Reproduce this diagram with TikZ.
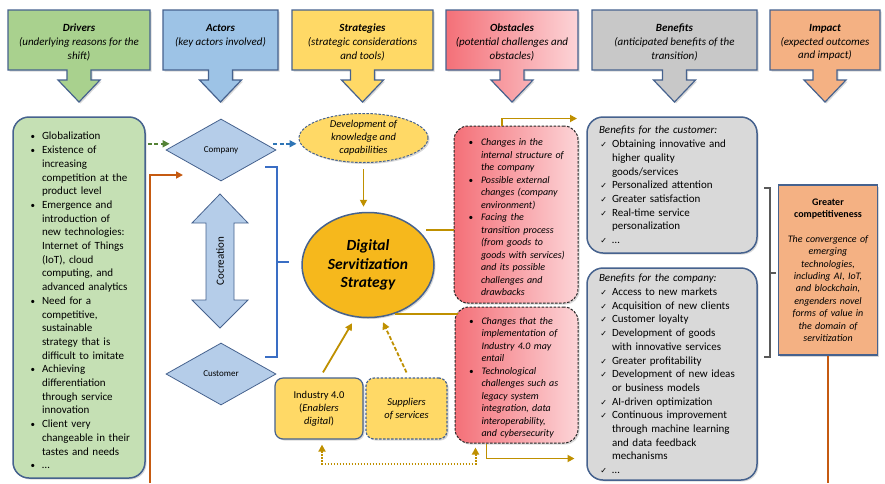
\documentclass[tikz,border=0pt]{standalone}
\usepackage{fontspec}
\setmainfont{Carlito}
\newfontfamily\symfont{DejaVu Sans}
\usepackage{enumitem}
\usetikzlibrary{shapes.geometric,arrows.meta,calc,shadows,positioning}
\definecolor{rimblue}{RGB}{70,98,142}
\definecolor{hgreen}{RGB}{169,209,142}
\definecolor{hblue}{RGB}{157,195,230}
\definecolor{hyellow}{RGB}{255,217,102}
\definecolor{obsdark}{RGB}{244,112,120}
\definecolor{obslight}{RGB}{252,212,215}
\definecolor{hgray}{RGB}{200,200,200}
\definecolor{horange}{RGB}{244,177,131}
\definecolor{drvgreen}{RGB}{197,224,180}
\definecolor{diamblue}{RGB}{181,205,233}
\definecolor{goldfill}{RGB}{246,184,28}
\definecolor{bengray}{RGB}{217,217,217}
\definecolor{goldline}{RGB}{191,144,0}
\definecolor{linkorange}{RGB}{197,90,17}
\definecolor{linkgreen}{RGB}{84,130,53}
\definecolor{linkblue}{RGB}{46,117,182}
\definecolor{braceblue}{RGB}{58,110,196}
\definecolor{bracegray}{RGB}{89,89,89}

\SetEnumitemKey{dots}{nosep,leftmargin=15pt,labelsep=7pt,label={\small\textbullet}}
\SetEnumitemKey{ticks}{nosep,leftmargin=13pt,labelsep=5pt,label={\symfont\footnotesize ✓}}

% header box with its down arrow
\newcommand{\headbox}[5]{%
  \pgfmathsetmacro\hc{(#2+#3)/2}
  \draw[headline,#4] (#2,10) -- (#3,10) -- (#3,70) -- (\hc+12,70) -- (\hc+12,80)
    -- (\hc+21,80) -- (\hc,102) -- (\hc-21,80) -- (\hc-12,80) -- (\hc-12,70)
    -- (#2,70) -- cycle;
  \node[headtext] (#1) at (\hc,24) {#5};
}

\begin{document}
\begin{tikzpicture}[x=1pt,y=-1pt,>={Triangle[length=7pt,width=7pt]},
    shadowed/.style={drop shadow={shadow xshift=1.5pt,shadow yshift=-1.5pt,opacity=0.3}},
    headline/.style={draw=rimblue,line width=1.2pt,shadowed},
    headtext/.style={anchor=north,inner sep=0pt,align=center,font=\fontsize{11}{13.8}\selectfont},
    listbox/.style={draw=rimblue,line width=1.5pt,rounded corners=16pt,shadowed,align=left,
      font=\fontsize{11}{13.7}\selectfont},
    obsbox/.style={draw=black!85,dash pattern=on 2.5pt off 1.5pt,line width=1pt,rounded corners=14pt,
      left color=obsdark,right color=obslight,shadowed,align=left,text width=104,
      font=\fontsize{10}{12.5}\selectfont\itshape},
    diam/.style={diamond,draw=rimblue,line width=0.8pt,fill=diamblue,minimum width=110,
      minimum height=62,inner sep=0pt,font=\fontsize{9}{11}\selectfont},
    yelbox/.style={draw=rimblue,line width=1.2pt,fill=hyellow,rounded corners=8pt,shadowed,
      minimum height=61,align=center,font=\fontsize{10.5}{13}\selectfont},
    goldarr/.style={goldline,line width=1.8pt},
    orangeline/.style={linkorange,line width=1.6pt},
    dashlink/.style={line width=1.6pt,dash pattern=on 4pt off 2.5pt,->}]

    \useasboundingbox (0,0) rectangle (885,483);
    \fill[white] (0,0) rectangle (885,483);

    % Headers
    \headbox{hdrv}{8}{150}{fill=hgreen}{\textbf{\textit{Drivers}}\\\textit{(underlying reasons for the}\\\textit{shift)}}
    \headbox{hact}{163}{278}{fill=hblue}{\textbf{\textit{Actors}}\\\textit{(key actors involved)}}
    \headbox{hstr}{292}{433}{fill=hyellow}{\textbf{\textit{Strategies}}\\\textit{(strategic considerations}\\\textit{and tools)}}
    \headbox{hobs}{446}{578}{left color=obsdark,right color=obslight}{\textbf{\textit{Obstacles}}\\\textit{(potential challenges and}\\\textit{obstacles)}}
    \headbox{hben}{592}{757}{fill=hgray}{\textbf{\textit{Benefits}}\\\textit{(anticipated benefits of the}\\\textit{transition)}}
    \headbox{himp}{770}{880}{fill=horange}{\textbf{\textit{Impact}}\\\textit{(expected outcomes}\\\textit{and impact)}}

    % Drivers
    \node[listbox,fill=drvgreen,minimum width=132,minimum height=361,text width=104] (drv) at (79,297.5) {%
      \begin{itemize}[dots]
        \item Globalization
        \item Existence of\\ increasing\\ competition at the\\ product level
        \item Emergence and\\ introduction of\\ new technologies:\\ Internet of Things\\ (IoT), cloud\\ computing, and\\ advanced analytics
        \item Need for a\\ competitive,\\ sustainable\\ strategy that is\\ difficult to imitate
        \item Achieving\\ differentiation\\ through service\\ innovation
        \item Client very\\ changeable in their\\ tastes and needs
        \item \dots
      \end{itemize}};

    % Actors
    \node[diam] (comp) at (221,150) {Company};
    \node[diam] (cust) at (221,374) {Customer};
    \draw[rimblue,line width=0.8pt,fill=diamblue] (220,194) -- (248,223) -- (234,223) -- (234,300)
      -- (248,300) -- (220,328) -- (192,300) -- (206,300) -- (206,223) -- (192,223) -- cycle;
    \node[rotate=90,font=\fontsize{11}{13}\selectfont] (cocr) at (220,261) {Cocreation};
    \draw[braceblue,line width=1.6pt] (265,167) -- (277,167) -- (277,357) -- (265,357)
      (277,262) -- (289,262);

    % Strategies
    \node[ellipse,draw=rimblue,line width=1pt,dash pattern=on 2.5pt off 1.5pt,fill=hyellow,shadowed,
      minimum width=129,minimum height=49,inner xsep=0pt,inner ysep=-6pt,align=center,
      font=\fontsize{10.5}{13}\selectfont\itshape] (dev) at (363.5,138) {Development of\\knowledge and\\capabilities};
    \node[ellipse,draw=rimblue,line width=1.5pt,fill=goldfill,shadowed,minimum width=132,minimum height=105,
      inner sep=0pt,align=center,font=\fontsize{15.5}{18.5}\selectfont\bfseries\itshape] (big) at (368,265)
      {Digital\\Servitization\\Strategy};
    \node[yelbox,minimum width=88] (ind) at (319,408.5) {Industry 4.0\\(\textit{Enablers}\\\textit{digital})};
    \node[yelbox,minimum width=81,dash pattern=on 2.5pt off 1.5pt,font=\fontsize{10.5}{13}\selectfont\itshape]
      (sup) at (406.5,408.5) {Suppliers\\of services};

    % Obstacles
    \node[obsbox,minimum width=124,minimum height=177] (obs1) at (516,214.5) {%
      \begin{itemize}[dots,leftmargin=17pt,labelsep=8pt]
        \item Changes in the\\ internal structure of\\ the company
        \item Possible external\\ changes (company\\ environment)
        \item Facing the\\ transition process\\ (from goods to\\ goods with services)\\ and its possible\\ challenges and\\ drawbacks
      \end{itemize}};
    \node[obsbox,minimum width=123,minimum height=136] (obs2) at (516.5,375) {%
      \begin{itemize}[dots,leftmargin=17pt,labelsep=8pt]
        \item Changes that the\\ implementation of\\ Industry 4.0 may\\ entail
        \item Technological\\ challenges such as\\ legacy system\\ integration, data\\ interoperability,\\ and cybersecurity
      \end{itemize}};

    % Benefits
    \node[listbox,fill=bengray,minimum width=170,minimum height=136,text width=146] (ben1) at (672,185) {%
      \noindent\textit{Benefits for the customer:}
      \begin{itemize}[ticks]
        \item Obtaining innovative and\\ higher quality\\ goods/services
        \item Personalized attention
        \item Greater satisfaction
        \item Real-time service\\ personalization
        \item \dots
      \end{itemize}};
    \node[listbox,fill=bengray,minimum width=170,minimum height=212,text width=146] (ben2) at (672,374) {%
      \noindent\textit{Benefits for the company:}
      \begin{itemize}[ticks]
        \item Access to new markets
        \item Acquisition of new clients
        \item Customer loyalty
        \item Development of goods\\ with innovative services
        \item Greater profitability
        \item Development of new ideas\\ or business models
        \item AI-driven optimization
        \item Continuous improvement\\ through machine learning\\ and data feedback\\ mechanisms
        \item \dots
      \end{itemize}};
    \draw[bracegray,line width=1.6pt] (764,188) -- (770,188) -- (770,357) -- (764,357)
      (770,273) -- (776,273);

    % Impact
    \node[draw=rimblue,line width=1.2pt,fill=horange,shadowed,minimum width=98,minimum height=170,
      text width=92,align=center,font=\fontsize{10}{12.4}\selectfont] (imp) at (828,270)
      {\textbf{Greater}\\\textbf{competitiveness}\\[12.4pt]\itshape The convergence of\\emerging\\technologies,\\including AI, IoT,\\and blockchain,\\engenders novel\\forms of value in\\the domain of\\servitization};

    % Links
    \draw[dashlink,linkgreen] ([xshift=2]drv.east |- comp.172) -- ([xshift=-7]comp.172);
    \draw[dashlink,linkblue] ([xshift=8]comp.8) -- ([xshift=-2]dev.west |- comp.8);
    \coordinate (obot) at (150,483);
    \coordinate (otip) at (183,175);
    \draw[orangeline,->] (obot) |- (otip);
    \draw[orangeline] (imp.south) -- (imp.south |- obot);
    \draw[goldarr,->] ([yshift=-6]dev.south) -- ([yshift=5]big.north -| dev.south);
    \draw[goldarr,shorten <=8pt] (big.35) -- (obs1.west |- big.35);
    \draw[goldarr] (big.-61) -- ([xshift=3]obs2.west |- big.-61);
    \draw[goldarr,->] ([xshift=-14]obs1.north) |- ++(75,-7);
    \draw[goldarr,->] ([xshift=-30]obs2.south) |- ++(88,15);
    \draw[goldarr,->] ([xshift=4,yshift=5]ind.north) -- ([xshift=-16,yshift=-5]big.south);
    \draw[goldarr,dash pattern=on 4pt off 2pt,->] ([yshift=5]sup.north) -- ([xshift=15,yshift=-4]big.south);
    \draw[goldarr,line width=2pt,dash pattern=on 1.6pt off 1.4pt,<->] ([xshift=3,yshift=-5]ind.south) -- ++(0,19)
      -| ([xshift=-41,yshift=-4]obs2.south);

\end{tikzpicture}
\end{document}
